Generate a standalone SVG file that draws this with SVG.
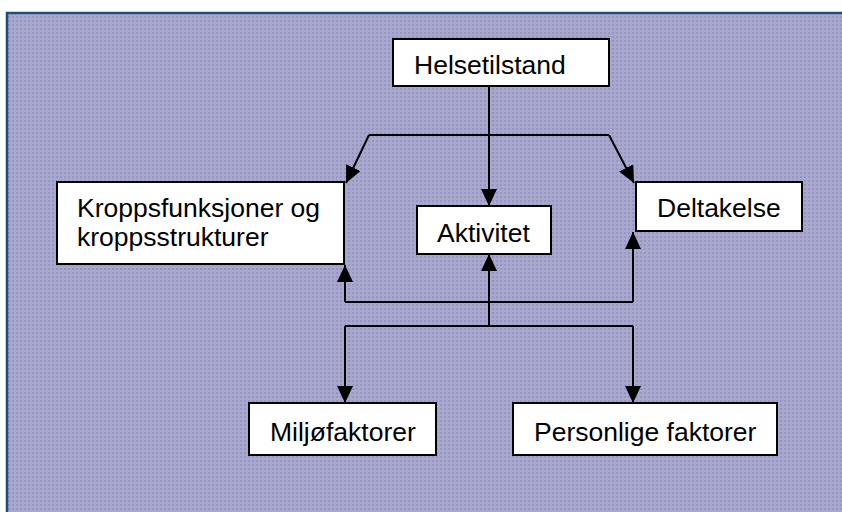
<svg xmlns="http://www.w3.org/2000/svg" width="842" height="512" viewBox="0 0 842 512">
<defs>
<pattern id="dots" width="4" height="4" patternUnits="userSpaceOnUse">
<rect width="4" height="4" fill="#a8a8ce"/>
<rect x="0" y="0" width="2" height="2" fill="#9696c2"/>
</pattern>
<marker id="ah" markerWidth="17" markerHeight="16" refX="17" refY="8" orient="auto" markerUnits="userSpaceOnUse" viewBox="0 0 17 16">
<path d="M0,0 L17,8 L0,16 Z" fill="#000"/>
</marker>
<style>
.box{fill:#fff;stroke:#000;stroke-width:2}
.lbl{font-family:"Liberation Sans",Arial,sans-serif;font-size:26.5px;fill:#000}
.ln{fill:none;stroke:#000;stroke-width:2}
.arr{fill:none;stroke:#000;stroke-width:2;marker-end:url(#ah)}
</style>
</defs>
<rect x="0" y="0" width="842" height="512" fill="#fff"/>
<rect x="7" y="13" width="845" height="510" fill="url(#dots)" stroke="#1f4e79" stroke-width="2.5"/>
<g id="connectors">
<path class="arr" d="M489,86 V206"/>
<path class="ln" d="M369,135 H609"/>
<path class="arr" d="M369,135 L346,183"/>
<path class="arr" d="M609,135 L634,183"/>
<path class="ln" d="M345,302 H633"/>
<path class="arr" d="M345,302 V265"/>
<path class="arr" d="M633,302 V232"/>
<path class="ln" d="M345,326 H633"/>
<path class="arr" d="M489,326 V254"/>
<path class="arr" d="M345,326 V403"/>
<path class="arr" d="M633,326 V403"/>
</g>
<g id="helsetilstand">
<rect class="box" x="393" y="39" width="216" height="47"/>
<text class="lbl" x="414" y="74">Helsetilstand</text>
</g>
<g id="kroppsfunksjoner">
<rect class="box" x="57" y="182" width="287" height="82"/>
<text class="lbl" x="77" y="217">Kroppsfunksjoner og</text>
<text class="lbl" x="77" y="246">kroppsstrukturer</text>
</g>
<g id="aktivitet">
<rect class="box" x="417" y="206" width="134" height="48"/>
<text class="lbl" x="437" y="242">Aktivitet</text>
</g>
<g id="deltakelse">
<rect class="box" x="636" y="182" width="166" height="49"/>
<text class="lbl" x="657" y="217">Deltakelse</text>
</g>
<g id="miljofaktorer">
<rect class="box" x="249" y="403" width="187" height="52"/>
<text class="lbl" x="270" y="441">Miljøfaktorer</text>
</g>
<g id="personlige">
<rect class="box" x="513" y="403" width="264" height="52"/>
<text class="lbl" x="534" y="441">Personlige faktorer</text>
</g>
</svg>
